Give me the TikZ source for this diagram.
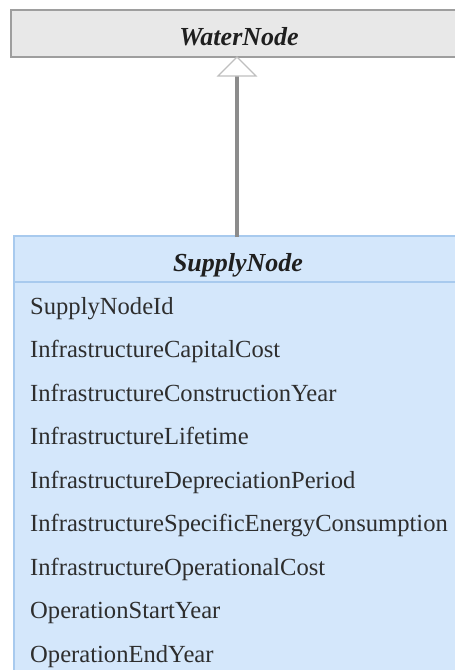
\documentclass[tikz,border=0pt]{standalone}
\usepackage{fontspec}
\setmainfont{Liberation Serif}
\begin{document}
\begin{tikzpicture}[x=1pt,y=-1pt,
  wbox/.style={draw=black!38,line width=2pt,fill=black!9},
  sbox/.style={draw={rgb,255:red,168;green,202;blue,238},line width=1.6pt,fill={rgb,255:red,212;green,231;blue,251}},
  title/.style={font=\fontsize{26}{28}\selectfont\bfseries\itshape,anchor=base,text=black!88,inner sep=0pt},
  attr/.style={font=\fontsize{24.6}{26}\selectfont,anchor=base west,inner sep=0pt,text=black!82},
  gen/.style={draw=black!45,line width=3.2pt},
  tri/.style={draw=black!25,line width=1.2pt,fill=white}]
\useasboundingbox (0,0) rectangle (455,670);
\clip (0,0) rectangle (455,670);
% WaterNode
\path[wbox] (11,10) rectangle (480,57);
\node[title] (wn) at (239,45) {WaterNode};
\coordinate (wnb) at (237,57);
% SupplyNode
\path[sbox] (14,236) rectangle (480,700);
\draw[draw={rgb,255:red,168;green,202;blue,238},line width=1.6pt] (14,282) -- (480,282);
\node[title] (sn) at (238,271) {SupplyNode};
\coordinate (snt) at (237,237);
% attributes
\node[attr] (a1) at (30,314) {SupplyNodeId};
\node[attr] (a2) at (30,357.5) {InfrastructureCapitalCost};
\node[attr] (a3) at (30,401) {InfrastructureConstructionYear};
\node[attr] (a4) at (30,444.5) {InfrastructureLifetime};
\node[attr] (a5) at (30,488) {InfrastructureDepreciationPeriod};
\node[attr] (a6) at (30,531.5) {InfrastructureSpecificEnergyConsumption};
\node[attr] (a7) at (30,575) {InfrastructureOperationalCost};
\node[attr] (a8) at (30,618.5) {OperationStartYear};
\node[attr] (a9) at (30,662) {OperationEndYear};
% generalization
\coordinate (tb) at (237,76);
\draw[gen] (snt) -- (tb);
\path[tri] (wnb) -- (218,76) -- (256,76) -- cycle;
\end{tikzpicture}
\end{document}
